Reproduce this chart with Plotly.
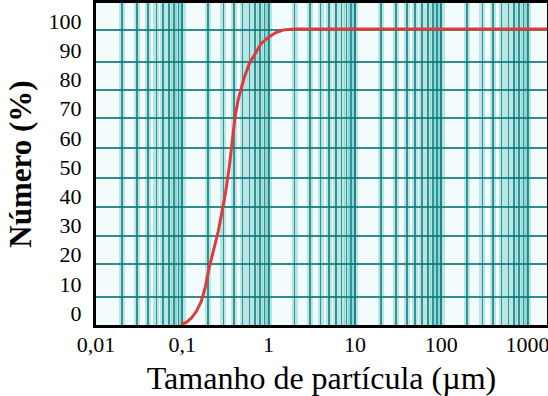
import plotly.graph_objects as go

# Data
size_um = [0.097, 0.11, 0.127, 0.145, 0.166, 0.185, 0.205, 0.23, 0.261, 0.29, 0.32,
           0.35, 0.38, 0.41, 0.444, 0.52, 0.6, 0.7, 0.82, 1.0, 1.2, 1.5, 2.0, 3.0,
           10, 100, 1000, 1800]
number_pct = [-3.8, -3.3, -1.8, 0.5, 4.0, 9.0, 15.5, 21.5, 28.0, 35.0, 42.0,
              50.0, 60.0, 67.5, 73.0, 80.5, 85.5, 89.0, 92.3, 94.5, 96.0, 97.0, 97.3, 97.3,
              97.3, 97.3, 97.3, 97.3]

x_tickvals = [0.01, 0.1, 1, 10, 100, 1000]
x_ticktext = ["0,01", "0,1", "1", "10", "100", "1000"]
y_tickvals = [0, 10, 20, 30, 40, 50, 60, 70, 80, 90, 100]
y_gridvals = [5.5, 16.8, 26.4, 36.3, 46.2, 56.5, 66.8, 76.4, 86.0, 96.9]

FONT = "Liberation Serif, Times New Roman, DejaVu Serif, serif"
XR = [-2, 3.226]
YR = [-4.1, 106.2]
DARK = "rgba(15,120,120,0.85)"
HALO = "rgba(40,170,170,0.28)"

fig = go.Figure()
fig.add_trace(go.Scatter(x=size_um, y=number_pct, mode="lines",
                         line=dict(color="#e23a3a", width=3), xaxis="x", yaxis="y",
                         hoverinfo="skip"))
# transparent copy to anchor overlay axes
fig.add_trace(go.Scatter(x=size_um, y=number_pct, mode="lines",
                         line=dict(color="rgba(0,0,0,0)", width=0), xaxis="x2", yaxis="y2",
                         hoverinfo="skip", showlegend=False))

fig.update_layout(
    width=548, height=396,
    margin=dict(l=96, r=1, t=3, b=71, autoexpand=False),
    paper_bgcolor="white", plot_bgcolor="#f3fcfc",
    showlegend=False,
    font=dict(family=FONT, color="black"),
    xaxis=dict(type="log", range=XR, tickvals=x_tickvals, ticktext=x_ticktext,
               tickfont=dict(size=22, family=FONT), showgrid=True, gridcolor=DARK, gridwidth=2,
               minor=dict(showgrid=True, dtick="D1", gridcolor=DARK, gridwidth=1.6),
               showline=True, linecolor="black", linewidth=3, mirror=True,
               ticks="", ticklabelstandoff=-2, ticklabeloverflow="allow", automargin=False,
               title=dict(text="Tamanho de partícula (µm)", font=dict(size=32, family=FONT),
                          standoff=12),
               zeroline=False),
    xaxis2=dict(type="log", range=XR, overlaying="x", showgrid=True, gridcolor=HALO, gridwidth=7,
                dtick=1, minor=dict(showgrid=True, dtick="D1", gridcolor=HALO, gridwidth=6),
                showticklabels=False, ticks="", showline=False, zeroline=False, automargin=False),
    yaxis=dict(range=YR, tickvals=y_tickvals, showgrid=False,
               tickfont=dict(size=22, family=FONT),
               showline=True, linecolor="black", linewidth=3, mirror=True,
               ticks="outside", ticklen=7, tickcolor="rgba(0,0,0,0)", automargin=False,
               title=dict(text="<b>Número (%)</b>", font=dict(size=31, family=FONT), standoff=8),
               zeroline=False),
    yaxis2=dict(range=YR, overlaying="y", tickvals=y_gridvals, showgrid=True,
                gridcolor=DARK, gridwidth=2, showticklabels=False, ticks="",
                showline=False, zeroline=False, automargin=False),
)

fig.write_html("out.html", config={"displayModeBar": False, "staticPlot": True},
               post_script="document.body.style.margin='0';document.body.style.overflow='hidden';")
